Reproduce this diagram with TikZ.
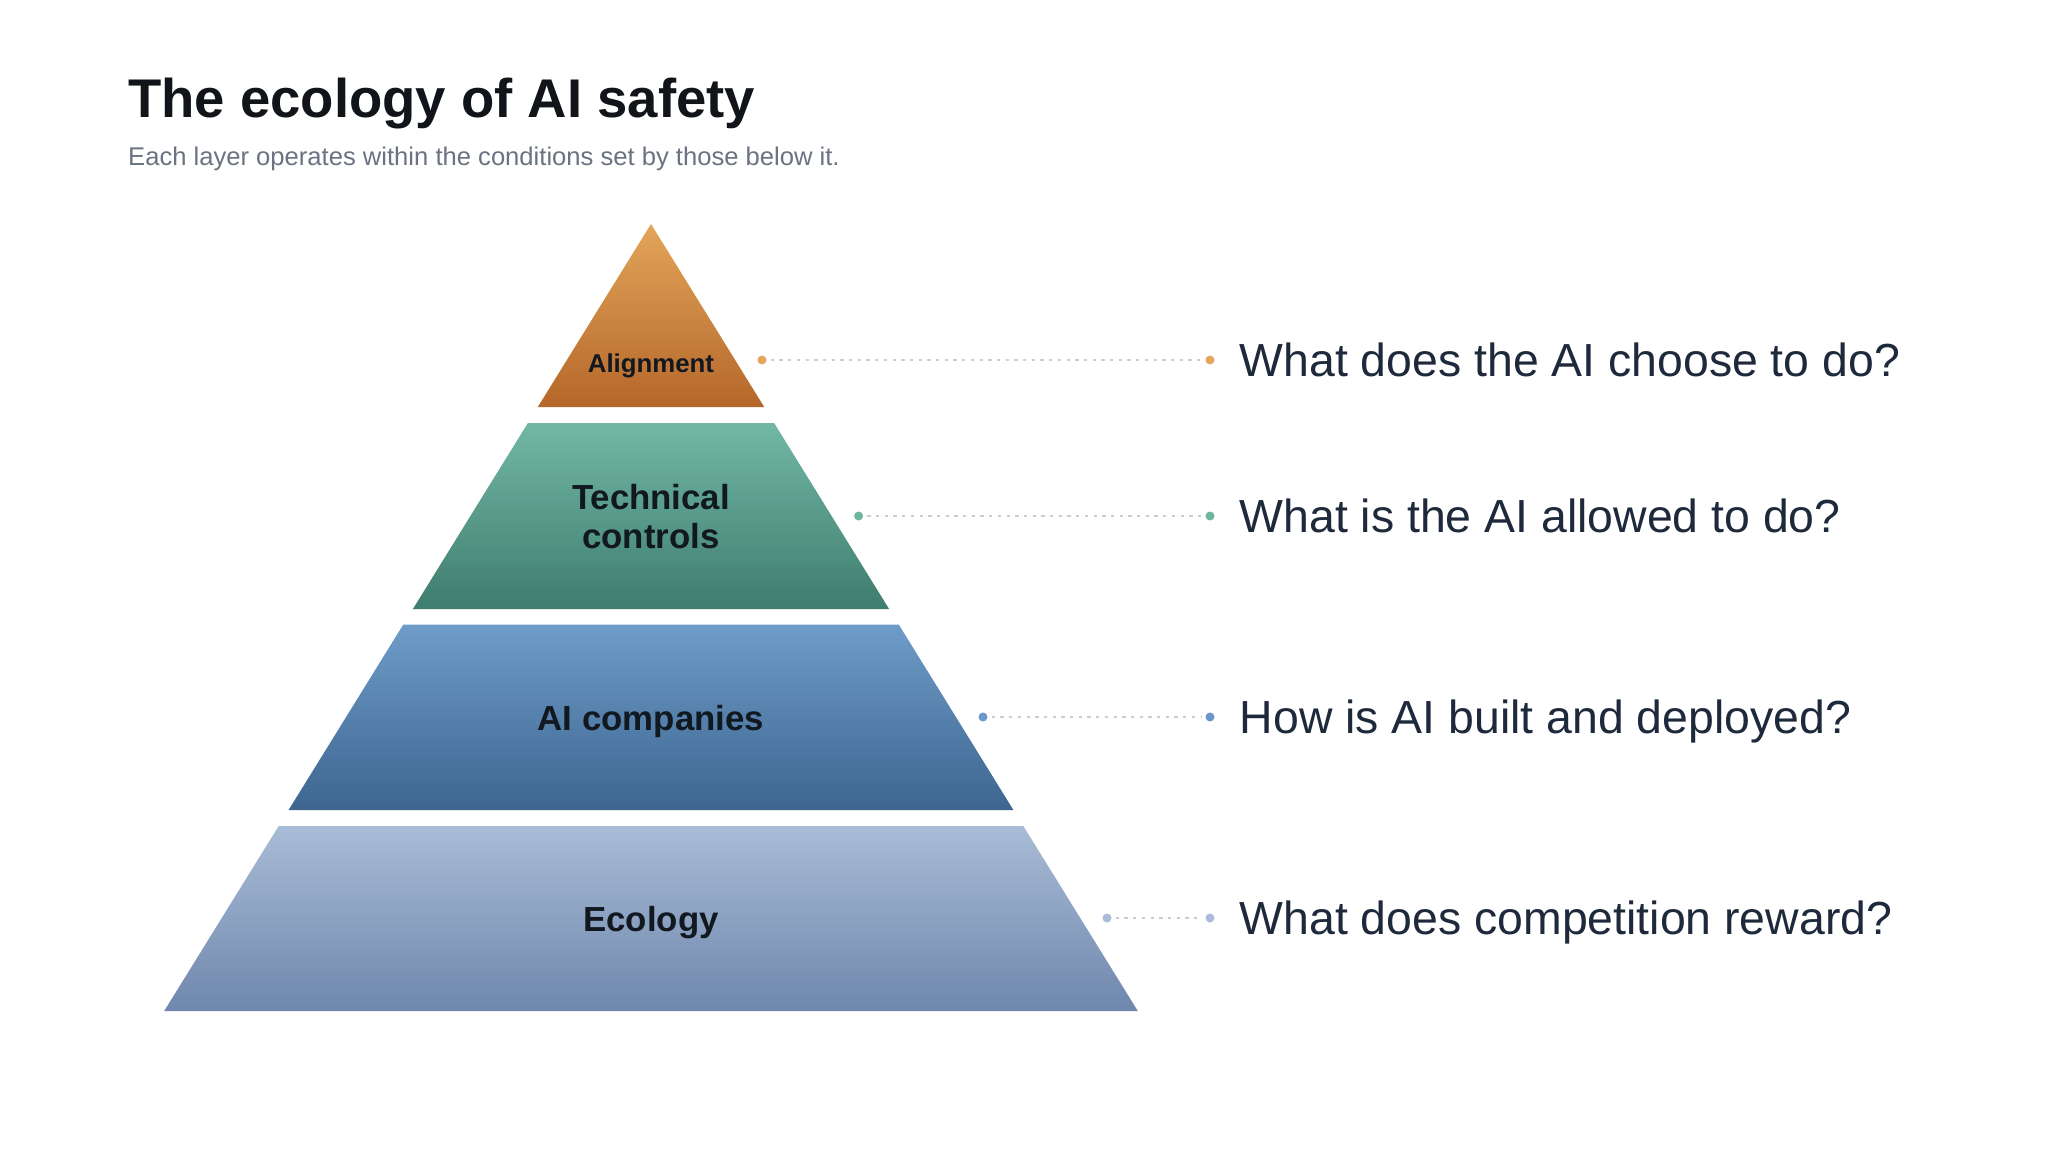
\documentclass[tikz,border=0pt]{standalone}
\usepackage{fontspec}
\setmainfont{Liberation Sans}
\definecolor{atop}{HTML}{E2A55A}
\definecolor{abot}{HTML}{B5672A}
\definecolor{ttop}{HTML}{72B7A4}
\definecolor{tbot}{HTML}{3F7D6E}
\definecolor{ctop}{HTML}{6E9CC8}
\definecolor{cbot}{HTML}{3D6590}
\definecolor{etop}{HTML}{A9BCD7}
\definecolor{ebot}{HTML}{6F87AD}
\definecolor{dota}{HTML}{E3A75C}
\definecolor{dott}{HTML}{6DB59F}
\definecolor{dotc}{HTML}{6A98C9}
\definecolor{dote}{HTML}{A9BCD8}
\definecolor{dashc}{HTML}{C8CDD8}
\definecolor{labelc}{HTML}{111820}
\definecolor{qc}{HTML}{1E293B}
\definecolor{subc}{HTML}{6B7280}
\definecolor{titlec}{HTML}{111418}
\begin{document}
\begin{tikzpicture}[x=1pt,y=-1pt,
  layerlabel/.style={font=\fontsize{34.8}{40}\selectfont\bfseries, text=labelc, inner sep=0pt, anchor=base},
  question/.style={font=\fontsize{46.4}{52}\selectfont, text=qc, inner sep=0pt, anchor=base west},
  dotnode/.style={circle, inner sep=0pt, minimum size=9pt},
  conn/.style={draw=dashc, line width=1.8pt, dash pattern=on 3.3pt off 5.4pt, shorten <=4pt, shorten >=4pt}]
\fill[white] (0,0) rectangle (2048,1164);
\useasboundingbox (0,0) rectangle (2048,1164);
% title
\node[anchor=base west, inner sep=0pt, text=titlec, font=\fontsize{54.5}{60}\selectfont\bfseries] (title) at (128,117) {The ecology of AI safety};
\node[anchor=base west, inner sep=0pt, text=subc, font=\fontsize{25.6}{30}\selectfont] (subtitle) at (128,165) {Each layer operates within the conditions set by those below it.};
% layers
\shade[top color=atop, bottom color=abot] (537.8,407) -- (651,224) -- (764.2,407) -- cycle;
\shade[top color=ttop, bottom color=tbot] (527.9,423) -- (774.1,423) -- (889.1,609) -- (412.9,609) -- cycle;
\shade[top color=ctop, bottom color=cbot] (403.3,624.5) -- (898.7,624.5) -- (1013.4,810) -- (288.6,810) -- cycle;
\shade[top color=etop, bottom color=ebot] (278.7,826) -- (1023.3,826) -- (1137.8,1011) -- (164.2,1011) -- cycle;
% layer labels
\node[layerlabel, font=\fontsize{25.8}{30}\selectfont\bfseries] (lalign) at (651,372.5) {Alignment};
\node[layerlabel] (ltech1) at (651,509.5) {Technical};
\node[layerlabel] (ltech2) at (651,548.5) {controls};
\node[layerlabel] (lcomp) at (651,730) {AI companies};
\node[layerlabel] (leco) at (651,931) {Ecology};
% connectors
\node[dotnode, fill=dota] (a1) at (762,360) {};
\node[dotnode, fill=dota] (a2) at (1210,360) {};
\node[dotnode, fill=dott] (t1) at (858.6,516) {};
\node[dotnode, fill=dott] (t2) at (1210,516) {};
\node[dotnode, fill=dotc] (c1) at (983,717) {};
\node[dotnode, fill=dotc] (c2) at (1210,717) {};
\node[dotnode, fill=dote] (e1) at (1107,918) {};
\node[dotnode, fill=dote] (e2) at (1210,918) {};
\draw[conn] (a1) -- (a2);
\draw[conn] (t1) -- (t2);
\draw[conn] (c1) -- (c2);
\draw[conn] (e1) -- (e2);
% questions
\node[question] (q1) at (1239.5,376.6) {What does the AI choose to do?};
\node[question] (q2) at (1239.5,532.6) {What is the AI allowed to do?};
\node[question] (q3) at (1239.5,733.6) {How is AI built and deployed?};
\node[question] (q4) at (1239.5,934.6) {What does competition reward?};
\end{tikzpicture}
\end{document}
